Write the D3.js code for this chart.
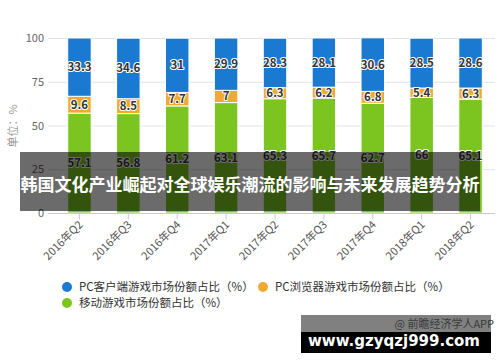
<!DOCTYPE html>
<html>
<head>
<meta charset="utf-8">
<script src="https://cdn.jsdelivr.net/npm/d3@7/dist/d3.min.js"></script>
<style>
  html, body { margin: 0; padding: 0; background: #fff; }
  svg { display: block; font-family: "Noto Sans CJK SC", "Noto Sans", sans-serif; }
</style>
</head>
<body>
<svg id="chart" width="500" height="362"></svg>
<script>
const categories = ["2016年Q2","2016年Q3","2016年Q4","2017年Q1","2017年Q2","2017年Q3","2017年Q4","2018年Q1","2018年Q2"];
const mobileShare = [57.1, 56.8, 61.2, 63.1, 65.3, 65.7, 62.7, 66, 65.1];
const browserShare = [9.6, 8.5, 7.7, 7, 6.3, 6.2, 6.8, 5.4, 6.3];
const clientShare = [33.3, 34.6, 31, 29.9, 28.3, 28.1, 30.6, 28.5, 28.6];
const yTicks = [0, 25, 50, 75, 100];
const seriesNames = ["PC客户端游戏市场份额占比（%）", "PC浏览器游戏市场份额占比（%）", "移动游戏市场份额占比（%）"];
const titleText = "韩国文化产业崛起对全球娱乐潮流的影响与未来发展趋势分析";

const colors = { mobile: "#7cc520", browser: "#eeaa33", client: "#1a79d0" };

const svg = d3.select("#chart");

const x = d3.scaleBand().domain(categories).range([55, 495]).paddingInner(0.52).paddingOuter(0.26);
const y = d3.scaleLinear().domain([0, 100]).range([213, 38]);

// gridlines
svg.append("g").selectAll("line").data(yTicks.filter(d => d > 0)).join("line")
  .attr("x1", 48).attr("x2", 495)
  .attr("y1", d => y(d) + 0.5).attr("y2", d => y(d) + 0.5)
  .attr("stroke", "#e3e3e3").attr("stroke-width", 1);

// y labels
svg.append("g").selectAll("text").data(yTicks).join("text")
  .attr("x", 44).attr("y", d => y(d) + 4)
  .attr("text-anchor", "end")
  .attr("font-size", 11).attr("fill", "#666")
  .text(d => d);

// y title
svg.append("text")
  .attr("transform", "translate(17,126) rotate(-90)")
  .attr("text-anchor", "middle")
  .attr("font-size", 11).attr("fill", "#999")
  .text("单位：%");

// stacked data
const rows = categories.map((c, i) => ({ cat: c, mobile: mobileShare[i], browser: browserShare[i], client: clientShare[i] }));
const stack = d3.stack().keys(["mobile", "browser", "client"]);
const series = stack(rows);

const gBars = svg.append("g");
series.forEach(s => {
  gBars.append("g").selectAll("rect").data(s).join("rect")
    .attr("x", d => x(d.data.cat))
    .attr("width", x.bandwidth())
    .attr("y", d => y(d[1]))
    .attr("height", d => y(d[0]) - y(d[1]))
    .attr("fill", colors[s.key])
    .attr("stroke", "#fff").attr("stroke-width", 1);
});

// value labels
series.forEach(s => {
  svg.append("g").selectAll("text").data(s).join("text")
    .attr("x", d => x(d.data.cat) + x.bandwidth() / 2)
    .attr("y", d => (y(d[0]) + y(d[1])) / 2 + 4)
    .attr("text-anchor", "middle")
    .attr("font-size", 11.5).attr("font-weight", "bold")
    .attr("fill", "#333")
    .attr("stroke", "#fff").attr("stroke-width", 2).attr("paint-order", "stroke")
    .attr("stroke-linejoin", "round")
    .text(d => d.data[s.key]);
});

// x axis
const xAxis = svg.append("g").attr("transform", `translate(0,${y(0) + 0.5})`)
  .call(d3.axisBottom(x).tickSize(6).tickSizeOuter(0));
xAxis.select(".domain").attr("stroke", "#ccc").attr("d", "M48,0H495");
xAxis.selectAll(".tick line").attr("stroke", "#ccc");
xAxis.selectAll(".tick text")
  .attr("font-size", 11).attr("fill", "#555")
  .attr("font-family", "'Noto Sans CJK SC', sans-serif")
  .attr("text-anchor", "end")
  .attr("dy", 0).attr("y", 0)
  .attr("transform", "translate(4,12) rotate(-45)");

// legend
const legendItems = [
  { name: seriesNames[0], color: colors.client, cx: 67, cy: 287 },
  { name: seriesNames[1], color: colors.browser, cx: 263, cy: 287 },
  { name: seriesNames[2], color: colors.mobile, cx: 67, cy: 303 }
];
const lg = svg.append("g").selectAll("g").data(legendItems).join("g");
lg.append("circle").attr("cx", d => d.cx).attr("cy", d => d.cy).attr("r", 5).attr("fill", d => d.color);
lg.append("text").attr("x", d => d.cx + 12).attr("y", d => d.cy + 4)
  .attr("font-size", 11.5).attr("fill", "#333").text(d => d.name);

// watermark boxes bottom right
svg.append("rect").attr("x", 301).attr("y", 315).attr("width", 190).attr("height", 17).attr("fill", "#808080");
svg.append("text").attr("x", 494).attr("y", 328).attr("text-anchor", "end")
  .attr("font-size", 11).attr("fill", "#3a3a3a").text("@ 前瞻经济学人APP");
svg.append("rect").attr("x", 301).attr("y", 332).attr("width", 190).attr("height", 21).attr("fill", "#000");
svg.append("text").attr("x", 394).attr("y", 346).attr("text-anchor", "middle")
  .attr("font-family", "'DejaVu Sans', sans-serif")
  .attr("font-size", 15).attr("font-weight", "bold").attr("fill", "#fff").text("www.gzyqzj999.com");

// title banner overlay
svg.append("rect").attr("x", 20).attr("y", 152).attr("width", 460).attr("height", 59)
  .attr("fill", "rgba(0,0,0,0.58)");
svg.append("text").attr("x", 250).attr("y", 191).attr("text-anchor", "middle")
  .attr("font-size", 17).attr("font-weight", "bold").attr("fill", "#fff").text(titleText);
</script>
</body>
</html>
